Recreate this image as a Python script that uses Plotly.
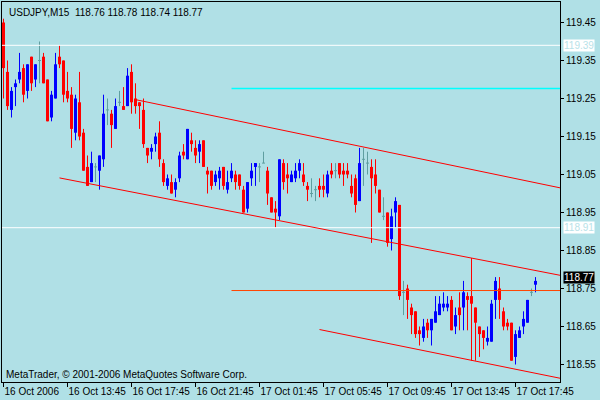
import plotly.graph_objects as go

# ---------------- data ----------------
chart_title = "USDJPY,M15  118.76 118.78 118.74 118.77"
copyright_text = "MetaTrader, \u00a9 2001-2006 MetaQuotes Software Corp."

opens = [119.45, 119.32, 119.22, 119.28, 119.30, 119.33, 119.27, 119.36, 119.30, 119.35,
         119.36, 119.30, 119.20, 119.25, 119.36, 119.35, 119.27, 119.26, 119.16, 119.24,
         119.16, 119.07, 119.03, 119.07, 119.06, 119.09, 119.22, 119.21, 119.17, 119.24,
         119.23, 119.23, 119.32, 119.25, 119.24, 119.22, 119.12, 119.11, 119.13, 119.16,
         119.08, 119.02, 119.03, 119.01, 119.04, 119.11, 119.09, 119.14, 119.12, 119.11,
         119.14, 119.06, 119.06, 119.03, 119.04, 119.07, 119.01, 119.04, 119.05, 119.05,
         119.01, 118.96, 119.04, 119.07, 119.07, 119.08, 119.06, 118.99, 118.96, 118.94,
         119.08, 119.05, 119.03, 119.04, 119.06, 119.05, 119.02, 119.00, 119.01, 119.02,
         119.02, 119.00, 119.06, 119.06, 119.08, 119.06, 119.06, 119.02, 119.04, 118.98,
         119.09, 119.08, 119.07, 119.05, 119.01, 118.94, 118.95, 118.88, 118.95, 118.97,
         118.74, 118.75, 118.70, 118.69, 118.64, 118.62, 118.66, 118.64, 118.66, 118.68,
         118.70, 118.70, 118.72, 118.65, 118.70, 118.70, 118.73, 118.73, 118.70, 118.65,
         118.64, 118.61, 118.61, 118.72, 118.75, 118.69, 118.66, 118.66, 118.57, 118.62,
         118.65, 118.66, 118.74, 118.76]
highs = [119.46, 119.35, 119.28, 119.30, 119.37, 119.34, 119.34, 119.36, 119.34, 119.40,
         119.37, 119.30, 119.27, 119.37, 119.39, 119.35, 119.32, 119.28, 119.26, 119.32,
         119.17, 119.10, 119.11, 119.08, 119.10, 119.26, 119.25, 119.22, 119.25, 119.27,
         119.28, 119.33, 119.34, 119.29, 119.24, 119.25, 119.12, 119.13, 119.16, 119.19,
         119.09, 119.05, 119.05, 119.04, 119.11, 119.13, 119.17, 119.16, 119.14, 119.14,
         119.14, 119.07, 119.06, 119.06, 119.07, 119.07, 119.06, 119.08, 119.06, 119.05,
         119.02, 119.03, 119.08, 119.08, 119.08, 119.11, 119.07, 118.99, 118.98, 119.09,
         119.09, 119.08, 119.06, 119.08, 119.09, 119.08, 119.03, 119.04, 119.02, 119.04,
         119.05, 119.06, 119.08, 119.08, 119.08, 119.08, 119.08, 119.05, 119.05, 119.12,
         119.12, 119.11, 119.09, 119.09, 119.01, 118.99, 118.95, 118.96, 118.99, 118.97,
         118.77, 118.76, 118.71, 118.69, 118.65, 118.67, 118.67, 118.67, 118.73, 118.73,
         118.74, 118.73, 118.73, 118.70, 118.74, 118.77, 118.74, 118.83, 118.70, 118.65,
         118.64, 118.65, 118.72, 118.78, 118.78, 118.70, 118.67, 118.66, 118.64, 118.65,
         118.69, 118.72, 118.75, 118.78]
lows = [119.25, 119.22, 119.20, 119.23, 119.29, 119.24, 119.25, 119.27, 119.28, 119.29,
        119.29, 119.19, 119.19, 119.25, 119.33, 119.24, 119.24, 119.12, 119.14, 119.14,
        119.06, 119.02, 119.03, 119.03, 119.01, 119.07, 119.18, 119.12, 119.17, 119.23,
        119.22, 119.23, 119.21, 119.21, 119.17, 119.12, 119.08, 119.09, 119.11, 119.07,
        119.02, 119.01, 119.00, 118.99, 119.03, 119.09, 119.09, 119.11, 119.08, 119.08,
        119.07, 119.00, 119.01, 119.02, 119.01, 119.01, 119.00, 119.03, 119.01, 119.01,
        118.95, 118.95, 119.02, 119.02, 119.03, 119.08, 118.97, 118.95, 118.91, 118.93,
        119.01, 119.00, 119.03, 119.03, 119.04, 119.02, 118.98, 118.99, 118.98, 118.99,
        118.99, 118.99, 119.04, 119.04, 119.04, 119.02, 119.04, 118.99, 118.95, 118.98,
        119.02, 119.05, 118.87, 119.00, 118.95, 118.93, 118.86, 118.85, 118.91, 118.72,
        118.68, 118.67, 118.63, 118.62, 118.60, 118.61, 118.62, 118.60, 118.66, 118.68,
        118.69, 118.69, 118.64, 118.63, 118.64, 118.64, 118.64, 118.56, 118.56, 118.57,
        118.59, 118.60, 118.61, 118.67, 118.67, 118.64, 118.64, 118.56, 118.55, 118.62,
        118.63, 118.66, 118.73, 118.74]
closes = [119.33, 119.23, 119.27, 119.29, 119.32, 119.26, 119.34, 119.29, 119.34, 119.35,
          119.29, 119.19, 119.26, 119.34, 119.34, 119.26, 119.25, 119.17, 119.25, 119.15,
          119.06, 119.02, 119.08, 119.07, 119.10, 119.21, 119.22, 119.18, 119.23, 119.24,
          119.22, 119.31, 119.24, 119.23, 119.23, 119.13, 119.10, 119.12, 119.15, 119.09,
          119.03, 119.04, 119.00, 119.03, 119.10, 119.10, 119.17, 119.13, 119.10, 119.13,
          119.07, 119.05, 119.02, 119.05, 119.06, 119.02, 119.03, 119.06, 119.03, 119.02,
          118.95, 119.03, 119.06, 119.08, 119.07, 119.08, 119.00, 118.95, 118.95, 119.09,
          119.03, 119.04, 119.05, 119.06, 119.08, 119.03, 119.01, 119.00, 119.01, 119.01,
          119.01, 119.05, 119.05, 119.06, 119.05, 119.05, 119.05, 119.00, 118.97, 119.08,
          119.09, 119.08, 119.04, 119.02, 118.95, 118.94, 118.87, 118.94, 118.98, 118.73,
          118.74, 118.72, 118.68, 118.63, 118.63, 118.65, 118.64, 118.67, 118.69, 118.71,
          118.71, 118.71, 118.64, 118.68, 118.68, 118.74, 118.72, 118.71, 118.66, 118.63,
          118.62, 118.62, 118.71, 118.77, 118.72, 118.65, 118.65, 118.56, 118.63, 118.64,
          118.67, 118.72, 118.74, 118.77]

time_tick_bars = [0, 16, 32, 48, 64, 80, 96, 112, 128]
time_tick_labels = ["16 Oct 2006", "16 Oct 13:45", "16 Oct 17:45", "16 Oct 21:45",
                    "17 Oct 01:45", "17 Oct 05:45", "17 Oct 09:45", "17 Oct 13:45",
                    "17 Oct 17:45"]
price_ticks = [118.55, 118.65, 118.75, 118.85, 118.95, 119.05, 119.15, 119.25, 119.35, 119.45]

white_levels = [119.39, 118.91]
cyan_level = 119.2763
orange_level = 118.7447
hline_start_bar = 57
# trend channel: (start bar, start price, end bar, end price)
channel_lines = [
    (33, 119.247, 140, 119.013),
    (14, 119.041, 140, 118.783),
    (79, 118.642, 140, 118.512),
]

# ---------------- styles ----------------
BG = "#B0E0E6"
UP = "#0000FF"
DOWN = "#FF0000"
DOJI = "#5F9EA0"
FONT = "Liberation Sans"
BODY_W = 0.75

fig = go.Figure()

groups = {"up": [], "down": [], "doji": []}
for i, (o, h, l, c) in enumerate(zip(opens, highs, lows, closes)):
    if c > o:
        groups["up"].append(i)
    elif c < o:
        groups["down"].append(i)
    else:
        groups["doji"].append(i)

for key, color in (("up", UP), ("down", DOWN), ("doji", DOJI)):
    idx = groups[key]
    wx, wy = [], []
    for i in idx:
        wx += [i, i, None]
        wy += [lows[i], highs[i], None]
    fig.add_trace(go.Scatter(x=wx, y=wy, mode="lines",
                             line=dict(color=color, width=1),
                             hoverinfo="skip"))
    if key == "doji":
        dx, dy = [], []
        for i in idx:
            dx += [i - BODY_W / 2, i + BODY_W / 2, None]
            dy += [opens[i], opens[i], None]
        fig.add_trace(go.Scatter(x=dx, y=dy, mode="lines",
                                 line=dict(color=color, width=1),
                                 hoverinfo="skip"))
    else:
        fig.add_trace(go.Bar(x=idx,
                             y=[abs(closes[i] - opens[i]) for i in idx],
                             base=[min(opens[i], closes[i]) for i in idx],
                             width=BODY_W,
                             marker=dict(color=color, line=dict(width=0)),
                             hoverinfo="skip"))

shapes = []
for lv in white_levels:
    shapes.append(dict(type="line", xref="paper", x0=0, x1=1, yref="y", y0=lv, y1=lv,
                       line=dict(color="#FFFFFF", width=1)))
shapes.append(dict(type="line", xref="x", x0=hline_start_bar, x1=140, yref="y",
                   y0=cyan_level, y1=cyan_level, line=dict(color="#00FFFF", width=1.5)))
shapes.append(dict(type="line", xref="x", x0=hline_start_bar, x1=140, yref="y",
                   y0=orange_level, y1=orange_level, line=dict(color="#FF4500", width=1)))
for (b0, p0, b1, p1) in channel_lines:
    shapes.append(dict(type="line", xref="x", x0=b0, x1=b1, yref="y", y0=p0, y1=p1,
                       line=dict(color="#FF0000", width=1)))

annotations = [
    dict(text=chart_title, xref="paper", yref="paper", x=0, y=1, xanchor="left",
         yanchor="top", xshift=5, yshift=-3, showarrow=False,
         font=dict(family=FONT, size=10, color="black")),
    dict(text=copyright_text, xref="paper", yref="paper", x=0, y=0, xanchor="left",
         yanchor="bottom", xshift=2, yshift=0, showarrow=False,
         font=dict(family=FONT, size=10, color="black")),
]
for lv in white_levels:
    annotations.append(dict(text=f"{lv:.2f}", xref="paper", yref="y", x=1, y=lv,
                            xanchor="left", yanchor="middle", xshift=3, showarrow=False,
                            bgcolor="#FFFFFF", borderpad=0,
                            font=dict(family=FONT, size=10, color="#B8E2E8")))
annotations.append(dict(text=f"{closes[-1]:.2f}", xref="paper", yref="y", x=1, y=closes[-1],
                        xanchor="left", yanchor="middle", xshift=3, yshift=3, showarrow=False,
                        bgcolor="#000000", borderpad=0,
                        font=dict(family=FONT, size=10, color="#FFFFFF")))

fig.update_layout(
    width=600, height=400,
    margin=dict(l=2, r=40, t=2, b=18, autoexpand=False),
    paper_bgcolor=BG, plot_bgcolor=BG,
    showlegend=False, barmode="overlay",
    shapes=shapes, annotations=annotations,
    xaxis=dict(range=[-0.375, 139.125], showgrid=False, zeroline=False,
               showline=True, linecolor="black", linewidth=1, mirror=True,
               ticks="outside", ticklen=4, tickwidth=1, tickcolor="black",
               tickvals=time_tick_bars, ticktext=time_tick_labels,
               ticklabelposition="outside right", tickangle=0, automargin=False,
               tickfont=dict(family=FONT, size=10, color="black")),
    yaxis=dict(range=[118.50395, 119.50395], side="right", showgrid=False,
               zeroline=False, showline=True, linecolor="black", linewidth=1,
               mirror=True, ticks="outside", ticklen=3, tickwidth=1,
               tickcolor="black", tickvals=price_ticks, automargin=False,
               ticktext=[f"{p:.2f}" for p in price_ticks],
               tickfont=dict(family=FONT, size=10, color="black")),
)

fig.write_html("out.html",
               config={"displayModeBar": False},
               post_script="document.body.style.margin='0';"
                           "document.body.style.overflow='hidden';")
